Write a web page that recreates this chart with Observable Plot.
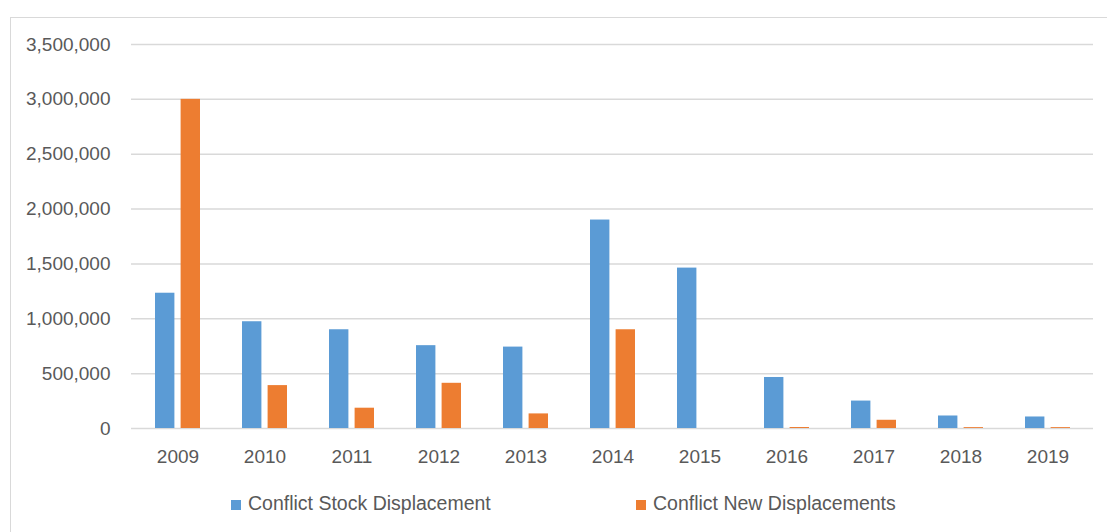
<!DOCTYPE html>
<html>
<head>
<meta charset="utf-8">
<script src="https://cdn.jsdelivr.net/npm/d3@7"></script>
<script src="https://cdn.jsdelivr.net/npm/@observablehq/plot@0.6"></script>
<style>
  html, body { margin: 0; padding: 0; background: #fff; }
  #wrap { position: relative; width: 1107px; height: 532px; overflow: hidden; font-family: "Liberation Sans", Arial, sans-serif; }
  #frame { position: absolute; left: 10px; top: 17px; width: 1200px; height: 600px; border-top: 1.5px solid #d9d9d9; border-left: 1.5px solid #d9d9d9; box-sizing: border-box; }
  #chart { position: absolute; left: 0; top: 0; }
  .leg { position: absolute; top: 493px; font-size: 19.5px; color: #595959; white-space: nowrap; line-height: 21px; }
  .sw { display: inline-block; width: 10px; height: 10px; margin-right: 7px; vertical-align: 0px; }
</style>
</head>
<body>
<div id="wrap">
  <div id="frame"></div>
  <div id="chart"></div>
  <div class="leg" style="left:231px"><span class="sw" style="background:#5b9bd5"></span>Conflict Stock Displacement</div>
  <div class="leg" style="left:636px"><span class="sw" style="background:#ed7d31"></span>Conflict New Displacements</div>
</div>
<script>
const years = ["2009","2010","2011","2012","2013","2014","2015","2016","2017","2018","2019"];
const stockDisplacement = [1233000, 973000, 900000, 755000, 742000, 1900000, 1462000, 465000, 250000, 114000, 105000];
const newDisplacements = [3000000, 391000, 185000, 412000, 133000, 900000, 0, 9000, 75000, 8000, 8000];
const yTicks = [0, 500000, 1000000, 1500000, 2000000, 2500000, 3000000, 3500000];

const stockData = years.map((y, i) => ({year: y, value: stockDisplacement[i]}));
const newData = years.map((y, i) => ({year: y, value: newDisplacements[i]}));

const plot = Plot.plot({
  width: 1107,
  height: 480,
  marginLeft: 131,
  marginRight: 14,
  marginTop: 44,
  marginBottom: 52,
  style: {fontFamily: "'Liberation Sans', Arial, sans-serif", fontSize: "19px", color: "#595959", background: "transparent"},
  x: {domain: years, paddingInner: 0.485, paddingOuter: 0.2425, label: null},
  y: {domain: [0, 3500000], label: null},
  marks: [
    Plot.ruleY(yTicks, {stroke: "#d9d9d9", strokeWidth: 1.5}),
    Plot.barY(stockData, {x: "year", y: "value", fill: "#5b9bd5", insetRight: 25.6}),
    Plot.barY(newData, {x: "year", y: "value", fill: "#ed7d31", insetLeft: 25.6}),
    Plot.axisX({tickSize: 0, tickPadding: 21, label: null, fill: "#595959"}),
    Plot.axisY({ticks: yTicks, tickSize: 0, tickPadding: 21, label: null, fill: "#595959", tickFormat: d3.format(",")})
  ]
});
document.getElementById("chart").appendChild(plot);
</script>
</body>
</html>
